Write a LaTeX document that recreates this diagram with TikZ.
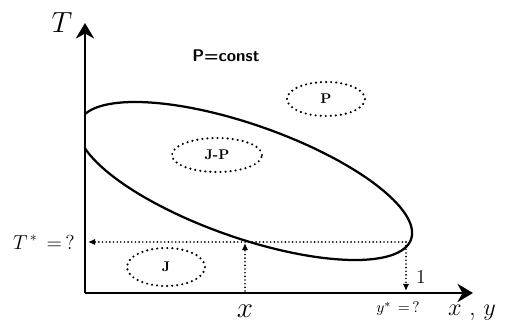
\documentclass[tikz,border=0pt]{standalone}
\usepackage{amsmath}
\usetikzlibrary{arrows.meta}

\begin{document}
\begin{tikzpicture}[
        x=0.025cm, y=0.025cm,
        axis/.style={line width=2pt, -{Stealth[length=11pt, width=13pt, inset=3.5pt]}},
        region/.style={line width=1.7pt, dash pattern=on 0pt off 3.6pt, line cap=round},
        guide/.style={line width=1.3pt, dash pattern=on 0pt off 2.6pt, line cap=round},
        tip/.style={-{Latex[length=5pt, width=4.5pt]}},
        lbl/.style={font=\bfseries\fontsize{10}{11}\selectfont}
    ]
    \useasboundingbox (0,0) rectangle (509,324);

    % ============ axes ============
    \coordinate (O) at (85,31);
    \coordinate (Ttip) at (85,301);
    \coordinate (Xtip) at (473,31);
    \draw[axis] (O) -- (Ttip);
    \draw[axis] (O) -- (Xtip);
    \node (Tlbl) at (62,301) {\fontsize{22}{24}\selectfont$T$};
    \node (XYlbl) at (472,11) {\fontsize{19}{22}\selectfont$x$\;,\;$y$};

    % ============ phase envelope, cut by the T axis ============
    \begin{scope}
        \clip (86,0) rectangle (509,324);
        \draw[line width=1.6pt, rotate around={-19.35:(245,143)}]
        (245,143) ellipse (176 and 56.5);
    \end{scope}
    \node[font=\sffamily\bfseries\fontsize{12}{13}\selectfont] (Pconst) at (226,268) {P=const};

    % ============ regions ============
    \draw[region] (326,225) ellipse (39 and 17);
    \node[lbl] (Preg) at (326,225) {P};
    \draw[region] (217,169) ellipse (45 and 17);
    \node[lbl] (JPreg) at (217,169) {J-P};
    \draw[region] (166,57) ellipse (39 and 19);
    \node[lbl] (Jreg) at (166,57) {J};

    % ============ construction ============
    \coordinate (Xfoot) at (245,33);
    \coordinate (Xpt) at (245,81);
    \coordinate (Rpt) at (406,82);
    \coordinate (Tstar) at (88,82);
    \coordinate (Yfoot) at (406,33);
    \draw[guide, tip] (Xfoot) -- (Xpt);
    \draw[guide, tip] (Rpt) -- (Tstar);
    \draw[guide, tip] (Rpt) -- (Yfoot);

    \node (Tstarlbl) at (44,82) {\fontsize{14}{15}\selectfont$T^{\,*}\,=\,?$};
    \node (xlbl) at (245,13) {\fontsize{20}{22}\selectfont$x$};
    \node (ylbl) at (398,15) {\fontsize{11}{12}\selectfont$y^{*}\,=\,?$};
    \node (onelbl) at (421,47) {\fontsize{14}{15}\selectfont 1};
\end{tikzpicture}
\end{document}
